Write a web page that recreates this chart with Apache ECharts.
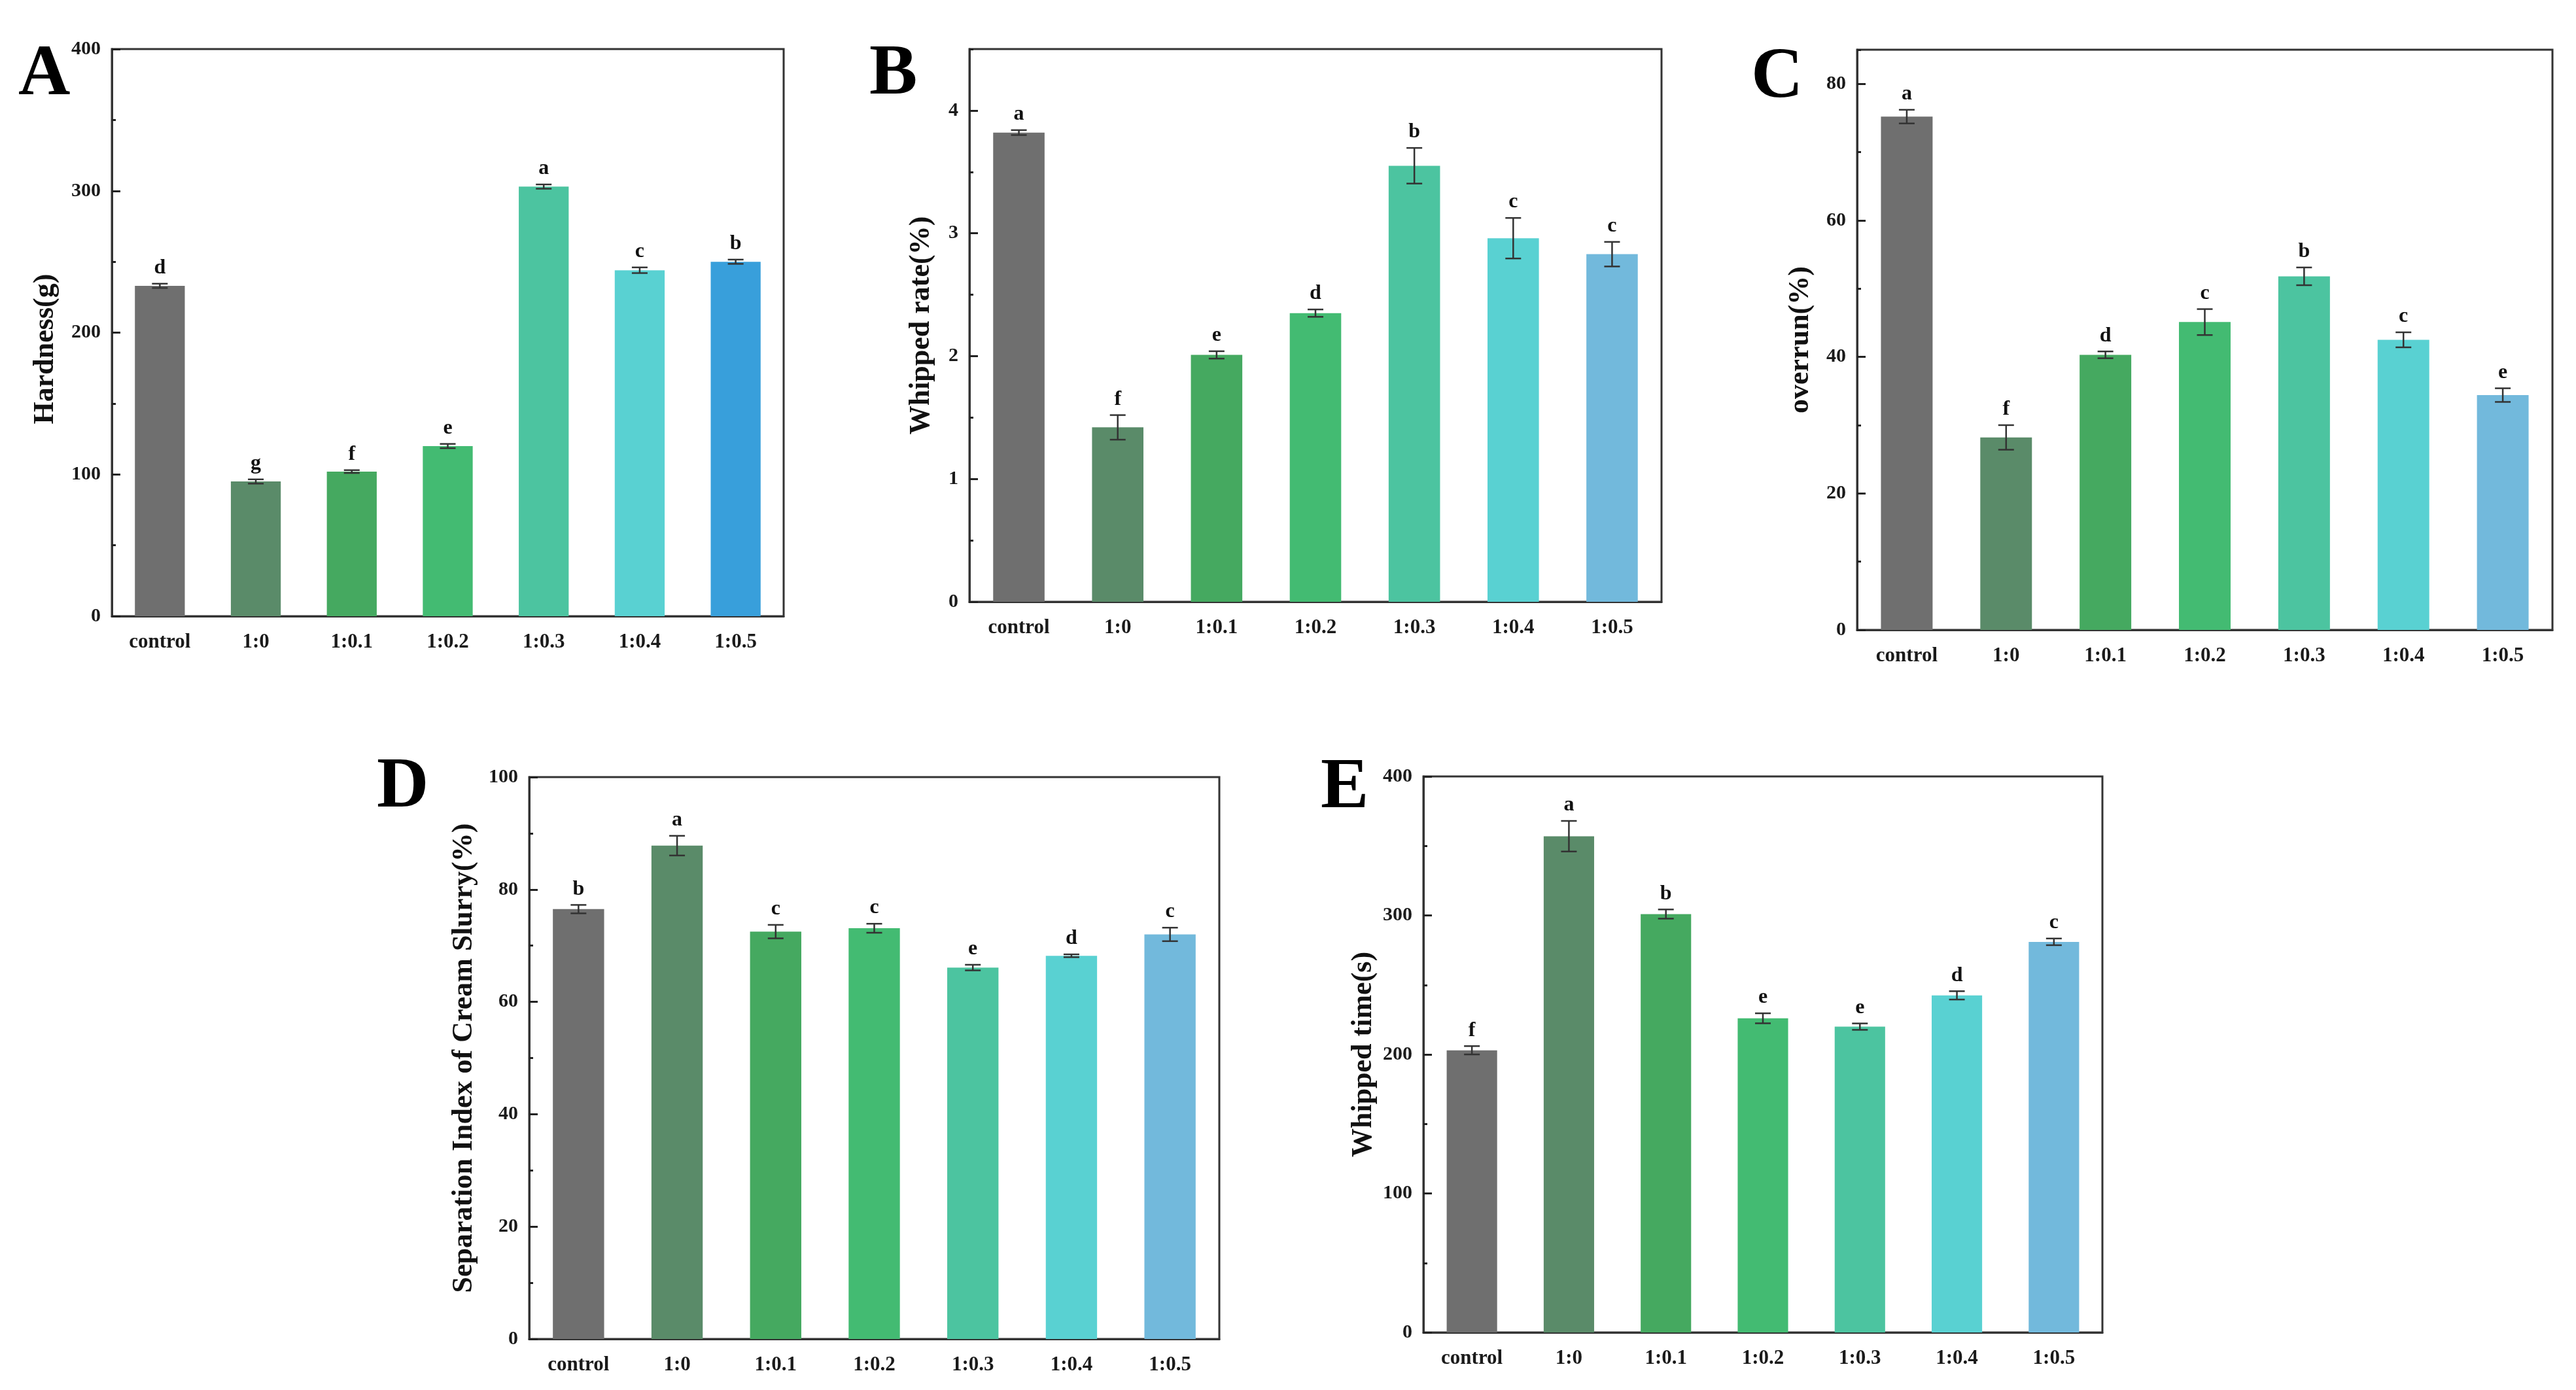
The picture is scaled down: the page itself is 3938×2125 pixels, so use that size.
<!DOCTYPE html>
<html>
<head>
<meta charset="UTF-8">
<title>Cream slurry properties</title>
<style type="text/css">
  body { margin: 0; background-color: #fff; }
  #charts { width: 3938px; height: 2125px; }
</style>
</head>
<body>
<div id="charts"></div>
<script src="https://cdn.jsdelivr.net/npm/echarts@6/dist/echarts.min.js"></script>
<script type="text/javascript">
// 数据
var categories = ['control', '1:0', '1:0.1', '1:0.2', '1:0.3', '1:0.4', '1:0.5'];

var hardness = [233, 95, 102, 120, 303, 244, 250];
var hardnessErr = [1.5, 1.5, 1, 1.5, 1.5, 2, 1.5];
var hardnessSig = ['d', 'g', 'f', 'e', 'a', 'c', 'b'];

var whipRate = [3.82, 1.42, 2.01, 2.35, 3.55, 2.96, 2.83];
var whipRateErr = [0.02, 0.1, 0.03, 0.03, 0.145, 0.165, 0.1];
var whipRateSig = ['a', 'f', 'e', 'd', 'b', 'c', 'c'];

var overrun = [75.2, 28.2, 40.3, 45.1, 51.8, 42.5, 34.4];
var overrunErr = [1.0, 1.8, 0.5, 1.9, 1.3, 1.1, 1.0];
var overrunSig = ['a', 'f', 'd', 'c', 'b', 'c', 'e'];

var separation = [76.5, 87.8, 72.5, 73.1, 66.1, 68.2, 72.0];
var separationErr = [0.75, 1.75, 1.2, 0.8, 0.5, 0.25, 1.2];
var separationSig = ['b', 'a', 'c', 'c', 'e', 'd', 'c'];

var whipTime = [203, 357, 301, 226, 220, 242.5, 281];
var whipTimeErr = [3, 11, 3.3, 3.6, 2.3, 3, 2.4];
var whipTimeSig = ['f', 'a', 'b', 'e', 'e', 'd', 'c'];

var colorsA = ['#6f6f6f', '#5a8b69', '#45a960', '#43bb72', '#4cc4a0', '#59d1d2', '#389fdb'];
var colorsB = ['#6f6f6f', '#5a8b69', '#45a960', '#43bb72', '#4cc4a0', '#59d1d2', '#72b9dc'];

var FONT = '"Liberation Serif", "Times New Roman", serif';

// 每个子图
var panels = [
    {tag: 'A', name: 'Hardness(g)', vals: hardness, err: hardnessErr, sig: hardnessSig, colors: colorsA,
     max: 400, interval: 100, nameGap: 79, namePad: [0, 50, 0, 0], between: false,
     left: 171, top: 75, width: 1027, height: 867, tagX: 28, tagY: 116},
    {tag: 'B', name: 'Whipped rate(%)', vals: whipRate, err: whipRateErr, sig: whipRateSig, colors: colorsB,
     max: 4.5, interval: 1, nameGap: 51, namePad: 0, between: true,
     left: 1482, top: 75, width: 1058, height: 845, tagX: 1329, tagY: 115},
    {tag: 'C', name: 'overrun(%)', vals: overrun, err: overrunErr, sig: overrunSig, colors: colorsB,
     max: 85, interval: 20, nameGap: 64, namePad: 0, between: true,
     left: 2839, top: 76, width: 1063, height: 887, tagX: 2677, tagY: 120},
    {tag: 'D', name: 'Separation Index of Cream Slurry(%)', vals: separation, err: separationErr, sig: separationSig, colors: colorsB,
     max: 100, interval: 20, nameGap: 77, namePad: 0, between: true,
     left: 809, top: 1188, width: 1055, height: 859, tagX: 576, tagY: 1205},
    {tag: 'E', name: 'Whipped time(s)', vals: whipTime, err: whipTimeErr, sig: whipTimeSig, colors: colorsB,
     max: 400, interval: 100, nameGap: 69, namePad: 0, between: true,
     left: 2176, top: 1187, width: 1038, height: 850, tagX: 2019, tagY: 1206}
];

function errRenderer(sig) {
    return function (params, api) {
        var x = api.value(0), v = api.value(1), e = api.value(2);
        var hi = api.coord([x, v + e]);
        var lo = api.coord([x, v - e]);
        var cap = 12;
        var st = {stroke: '#333', lineWidth: 2.5};
        return {
            type: 'group',
            children: [
                {type: 'line', shape: {x1: hi[0], y1: hi[1], x2: lo[0], y2: lo[1]}, style: st},
                {type: 'line', shape: {x1: hi[0] - cap, y1: hi[1], x2: hi[0] + cap, y2: hi[1]}, style: st},
                {type: 'line', shape: {x1: lo[0] - cap, y1: lo[1], x2: lo[0] + cap, y2: lo[1]}, style: st},
                {type: 'text', x: hi[0], y: hi[1] - 8,
                 style: {text: sig[params.dataIndex], align: 'center', verticalAlign: 'bottom',
                         fontSize: 32, fontWeight: 'bold', fontFamily: FONT, fill: '#111'}}
            ]
        };
    };
}

var grids = [], xAxes = [], yAxes = [], series = [], graphics = [];

panels.forEach(function (p, i) {
    grids.push({
        left: p.left, top: p.top, width: p.width, height: p.height,
        show: true, borderColor: '#333', borderWidth: 3
    });
    // 主x轴
    xAxes.push({
        type: 'category', gridIndex: i, data: categories, position: 'bottom',
        axisLine: {lineStyle: {color: '#333', width: 3}},
        axisTick: {inside: true, alignWithLabel: true, length: 14, lineStyle: {color: '#222', width: 3}},
        axisLabel: {margin: 24, fontSize: 31, fontWeight: 'bold', fontFamily: FONT, color: '#1a1a1a'}
    });
    // 主y轴
    yAxes.push({
        type: 'value', gridIndex: i, min: 0, max: p.max, interval: p.interval, position: 'left',
        name: p.name, nameLocation: 'middle', nameGap: p.nameGap,
        nameTextStyle: {fontSize: 44, fontWeight: 'bold', fontFamily: FONT, color: '#111', padding: p.namePad},
        axisLine: {show: true, lineStyle: {color: '#333', width: 3}},
        axisTick: {show: true, inside: true, length: 13, lineStyle: {color: '#222', width: 3}},
        axisLabel: {margin: 17, fontSize: 30, fontWeight: 'bold', fontFamily: FONT, color: '#1a1a1a',
                    showMaxLabel: p.max % p.interval === 0},
        splitLine: {show: false}
    });
    graphics.push({
        type: 'text', x: p.tagX, y: p.tagY,
        style: {text: p.tag, fontSize: 110, fontWeight: 'bold', fontFamily: FONT, fill: '#000',
                align: 'left', verticalAlign: 'middle'}
    });
});

// 次刻度：类别之间的x刻度、半间隔的y刻度
panels.forEach(function (p, i) {
    xAxes.push({
        type: 'category', gridIndex: i, data: categories, position: 'bottom', show: p.between,
        axisLine: {show: false}, axisLabel: {show: false},
        axisTick: {inside: true, alignWithLabel: false, length: 7, lineStyle: {color: '#222', width: 3}}
    });
    yAxes.push({
        type: 'value', gridIndex: i, min: 0, max: p.max, interval: p.interval / 2, position: 'left',
        axisLine: {show: false}, axisLabel: {show: false}, splitLine: {show: false},
        axisTick: {show: true, inside: true, length: 6, lineStyle: {color: '#222', width: 3}}
    });
});

panels.forEach(function (p, i) {
    series.push({
        type: 'bar', xAxisIndex: i, yAxisIndex: i, barWidth: '52%',
        data: p.vals,
        itemStyle: {color: function (c) { return p.colors[c.dataIndex]; }},
        z: 2
    });
    series.push({
        type: 'custom', xAxisIndex: i, yAxisIndex: i,
        renderItem: errRenderer(p.sig),
        encode: {x: 0, y: 1},
        data: p.vals.map(function (v, k) { return [k, v, p.err[k]]; }),
        z: 5
    });
});

var myChart = echarts.init(document.getElementById('charts'));
myChart.setOption({
    backgroundColor: '#ffffff',
    animation: false,
    grid: grids,
    xAxis: xAxes,
    yAxis: yAxes,
    series: series,
    graphic: graphics
});
</script>
</body>
</html>
